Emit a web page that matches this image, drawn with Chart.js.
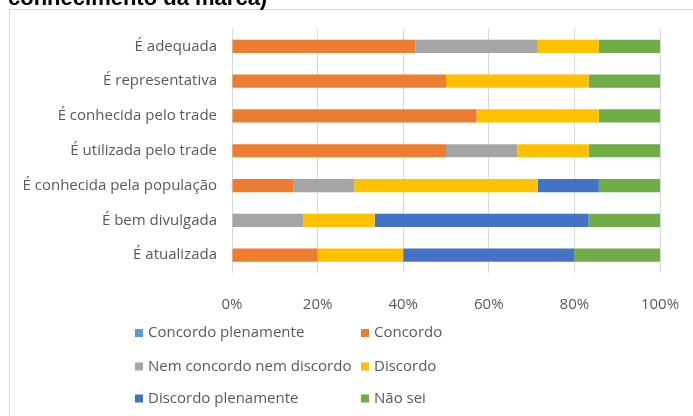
<!DOCTYPE html>
<html>
<head>
<meta charset="utf-8">
<script src="https://cdn.jsdelivr.net/npm/chart.js@4/dist/chart.umd.min.js"></script>
<style>
  html, body { margin: 0; padding: 0; background: #fff; overflow: hidden; }
  #wrap { position: relative; width: 693px; height: 416px; }
</style>
</head>
<body>
<div id="wrap"><canvas id="myChart" width="693" height="416"></canvas></div>
<script>
// Data
const categories = [
  'É adequada',
  'É representativa',
  'É conhecida pelo trade',
  'É utilizada pelo trade',
  'É conhecida pela população',
  'É bem divulgada',
  'É atualizada'
]
const concordoPlenamente = [0, 0, 0, 0, 0, 0, 0]
const concordo = [42.86, 50, 57.14, 50, 14.29, 0, 20]
const nemConcordo = [28.57, 0, 0, 16.67, 14.29, 16.67, 0]
const discordo = [14.29, 33.33, 28.57, 16.67, 42.86, 16.66, 20]
const discordoPlenamente = [0, 0, 0, 0, 14.28, 50, 40]
const naoSei = [14.28, 16.67, 14.29, 16.66, 14.28, 16.67, 20]
const tickLabels = ['0%', '20%', '40%', '60%', '80%', '100%']

const titleText = 'conhecimento da marca)'
const textColor = '#595959'
const fontFamily = '"Open Sans", "Noto Sans", sans-serif'

// title + frame + 2-column legend
const decor = {
  id: 'decor',
  beforeDraw (chart) {
    const c = chart.ctx
    c.save()
    c.strokeStyle = '#d9d9d9'
    c.lineWidth = 1
    c.strokeRect(9.5, 9.5, 720, 450)
    c.fillStyle = '#000'
    c.font = 'bold 22px "Liberation Sans", Arial, sans-serif'
    c.textBaseline = 'alphabetic'
    c.fillText(titleText, 8, 5)
    c.restore()
  },
  afterDraw (chart) {
    const c = chart.ctx
    const colX = [135, 361]
    const rowY = [333, 366.5, 398.5]
    c.save()
    c.font = '15px ' + fontFamily
    c.textBaseline = 'middle'
    chart.data.datasets.forEach((ds, i) => {
      const x = colX[i % 2]
      const y = rowY[Math.floor(i / 2)]
      c.fillStyle = ds.backgroundColor
      c.fillRect(x, y - 4, 8, 8)
      c.fillStyle = textColor
      c.fillText(ds.label, x + 13, y)
    })
    c.restore()
  }
}

const ctx = document.getElementById('myChart')
const myChart = new Chart(ctx, {
  type: 'bar',
  data: {
    labels: categories,
    datasets: [
      { label: 'Concordo plenamente', data: concordoPlenamente, backgroundColor: '#5B9BD5' },
      { label: 'Concordo', data: concordo, backgroundColor: '#ED7D31' },
      { label: 'Nem concordo nem discordo', data: nemConcordo, backgroundColor: '#A5A5A5' },
      { label: 'Discordo', data: discordo, backgroundColor: '#FFC000' },
      { label: 'Discordo plenamente', data: discordoPlenamente, backgroundColor: '#4472C4' },
      { label: 'Não sei', data: naoSei, backgroundColor: '#70AD47' }
    ]
  },
  options: {
    indexAxis: 'y',
    responsive: false,
    animation: false,
    datasets: {
      bar: { categoryPercentage: 1, barPercentage: 0.38, borderWidth: 0 }
    },
    layout: { padding: { left: 10, top: 29, right: 33, bottom: 103.5 } },
    plugins: {
      legend: { display: false },
      tooltip: { enabled: false }
    },
    scales: {
      x: {
        stacked: true,
        min: 0,
        max: 100,
        border: { display: false },
        grid: { color: '#d9d9d9', lineWidth: 1, drawTicks: false },
        ticks: {
          stepSize: 20,
          padding: 23,
          color: textColor,
          font: { family: fontFamily, size: 15 },
          callback: (v, i) => tickLabels[i]
        },
        afterFit: (s) => {
          s.height = 40
          s.paddingLeft = 0
          s.paddingRight = 0
        }
      },
      y: {
        stacked: true,
        border: { display: false },
        grid: { display: false, drawTicks: false },
        ticks: {
          padding: 15,
          color: textColor,
          font: { family: fontFamily, size: 15 }
        },
        afterFit: (s) => { s.width = 222 }
      }
    }
  },
  plugins: [decor]
})
</script>
</body>
</html>
